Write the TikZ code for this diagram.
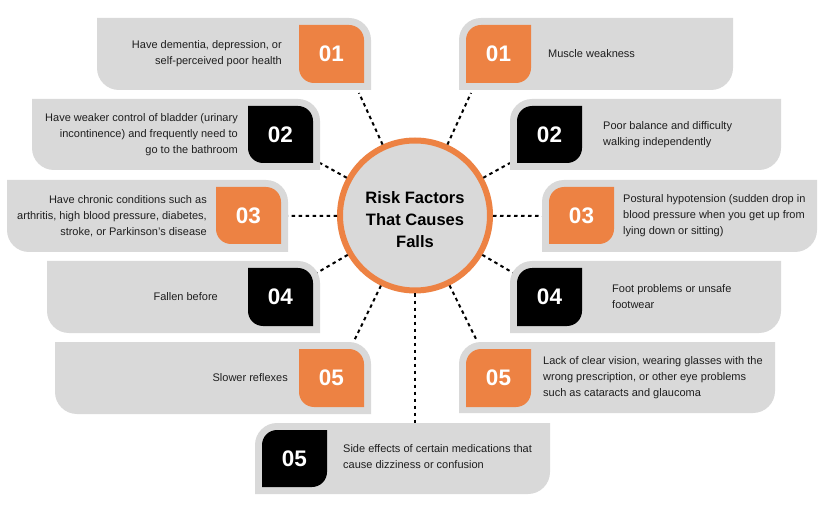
\documentclass[tikz,border=0pt]{standalone}
\usepackage{fontspec}
\setmainfont{Liberation Sans}
\definecolor{cardgray}{HTML}{D9D9D9}
\definecolor{org}{HTML}{ED8243}
\definecolor{txt}{HTML}{1E1E1E}
% x1 y1 x2 y2 radius colour ; top-right and bottom-left rounded
\newcommand{\leafL}[6]{\fill[#6] (#1,#2) -- ({#3-#5},#2) arc[start angle=90,end angle=0,radius=#5pt] -- (#3,#4) -- ({#1+#5},#4) arc[start angle=270,end angle=180,radius=#5pt] -- cycle;}
% top-left and bottom-right rounded
\newcommand{\leafR}[6]{\fill[#6] (#1,{#2+#5}) arc[start angle=180,end angle=90,radius=#5pt] -- (#3,#2) -- (#3,{#4-#5}) arc[start angle=0,end angle=-90,radius=#5pt] -- (#1,#4) -- cycle;}
\tikzset{
  cardtxt/.style={inner sep=0pt, text=txt, font=\fontsize{11}{16}\selectfont},
  lefttxt/.style={cardtxt, anchor=east, align=right},
  righttxt/.style={cardtxt, anchor=west, align=left},
  numtxt/.style={inner sep=0pt, text=white, font=\fontsize{22.5}{22}\selectfont\bfseries},
  conn/.style={draw=black, line width=2pt, dash pattern=on 3.5pt off 3.5pt},
}
\begin{document}
\begin{tikzpicture}[x=1pt,y=-1pt]
\useasboundingbox (0,0) rectangle (825,513);
\fill[white] (0,0) rectangle (825,513);

% connector end points
\coordinate (e1L) at (359,93);
\coordinate (e1R) at (471,93);
\coordinate (e2L) at (320,163);
\coordinate (e2R) at (510,163);
\coordinate (e3L) at (288,216);
\coordinate (e3R) at (542,216);
\coordinate (e4L) at (315,274);
\coordinate (e4R) at (515,274);
\coordinate (e5L) at (354,341);
\coordinate (e5R) at (477,341);
\coordinate (e6) at (415,423);

% central circle
\node[circle, fill=cardgray, draw=org, line width=6pt, minimum size=150pt, inner sep=0pt] (c) at (415,215.5) {};
\node[inner sep=0pt, align=center, font=\fontsize{16.5}{22}\selectfont\bfseries, text=black] (title) at (415,220) {Risk Factors\\That Causes\\Falls};

% connectors
\foreach \e in {e1L,e1R,e2L,e2R,e3L,e3R,e4L,e4R,e5L,e5R,e6}
  \draw[conn] (c) -- (\e);

% cards left
\leafL{97}{18}{371}{90}{22}{cardgray}
\leafL{299}{25}{364}{83}{15}{org}
\node[numtxt] (n1L) at (331.5,54) {01};
\node[lefttxt] (t1L) at (282,54) {Have dementia, depression, or\\self-perceived poor health};

\leafL{32}{99}{320}{170}{22}{cardgray}
\leafL{248}{106}{313}{163}{15}{black}
\node[numtxt] (n2L) at (280.5,134.5) {02};
\node[lefttxt] (t2L) at (238,135) {Have weaker control of bladder (urinary\\incontinence) and frequently need to\\go to the bathroom};

\leafL{7}{180}{288}{252}{22}{cardgray}
\leafL{216}{187}{281}{244}{15}{org}
\node[numtxt] (n3L) at (248.5,215.5) {03};
\node[lefttxt] (t3L) at (207,216) {Have chronic conditions such as\\arthritis, high blood pressure, diabetes,\\stroke, or Parkinson’s disease};

\leafL{47}{261}{320}{333}{22}{cardgray}
\leafL{248}{268}{313}{326}{15}{black}
\node[numtxt] (n4L) at (280.5,297) {04};
\node[lefttxt] (t4L) at (218,297) {Fallen before};

\leafL{55}{342}{371}{414}{22}{cardgray}
\leafL{299}{349}{364}{407}{15}{org}
\node[numtxt] (n5L) at (331.5,378) {05};
\node[lefttxt] (t5L) at (288,378) {Slower reflexes};

% cards right
\leafR{459}{18}{733}{90}{22}{cardgray}
\leafR{466}{25}{531}{83}{15}{org}
\node[numtxt] (n1R) at (498.5,54) {01};
\node[righttxt] (t1R) at (548,54) {Muscle weakness};

\leafR{510}{99}{781}{170}{22}{cardgray}
\leafR{517}{106}{582}{163}{15}{black}
\node[numtxt] (n2R) at (549.5,134.5) {02};
\node[righttxt] (t2R) at (603,135) {Poor balance and difficulty\\walking independently};

\leafR{542}{180}{817}{252}{22}{cardgray}
\leafR{549}{187}{614}{244}{15}{org}
\node[numtxt] (n3R) at (581.5,215.5) {03};
\node[righttxt] (t3R) at (623,216) {Postural hypotension (sudden drop in\\blood pressure when you get up from\\lying down or sitting)};

\leafR{510}{261}{781}{333}{22}{cardgray}
\leafR{517}{268}{582}{326}{15}{black}
\node[numtxt] (n4R) at (549.5,297) {04};
\node[righttxt] (t4R) at (612,297) {Foot problems or unsafe\\footwear};

\leafR{459}{342}{775}{413}{22}{cardgray}
\leafR{466}{349}{531}{407}{15}{org}
\node[numtxt] (n5R) at (498.5,378) {05};
\node[righttxt] (t5R) at (543,378) {Lack of clear vision, wearing glasses with the\\wrong prescription, or other eye problems\\such as cataracts and glaucoma};

% bottom card
\leafR{255}{423}{550}{494}{22}{cardgray}
\leafR{262}{430}{327}{487}{15}{black}
\node[numtxt] (n6) at (294.5,458.5) {05};
\node[righttxt] (t6) at (343,457) {Side effects of certain medications that\\cause dizziness or confusion};
\end{tikzpicture}
\end{document}
